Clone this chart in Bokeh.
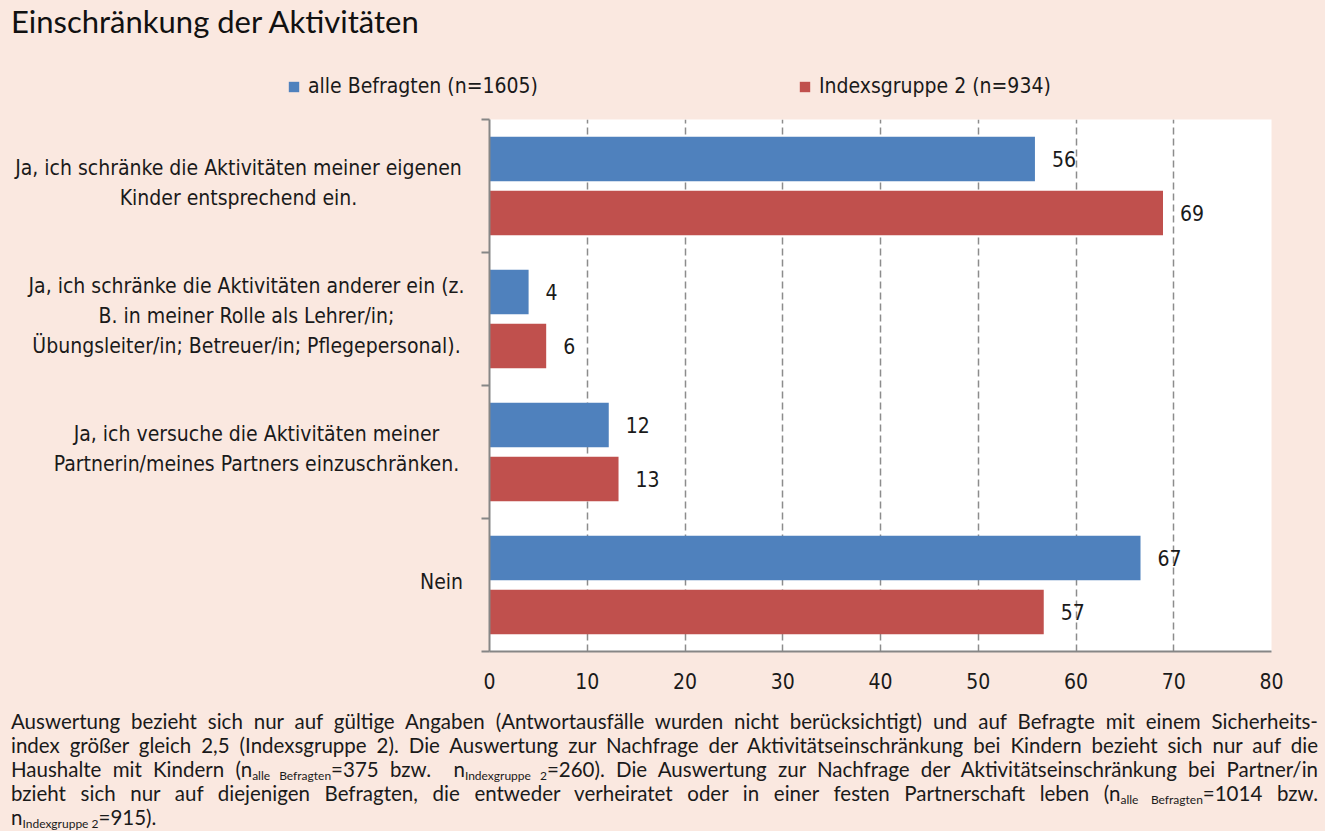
from bokeh.plotting import figure
from bokeh.models import (Range1d, FixedTicker, Legend, LegendItem, Div,
                          ColumnDataSource)
from bokeh.layouts import column, row
from bokeh.core.properties import value
from bokeh.embed import file_html
from bokeh.resources import INLINE

# ---------------- data ----------------
title_text = "Einschränkung der Aktivitäten"
categories = [
    ["Ja, ich schränke die Aktivitäten meiner eigenen", "Kinder entsprechend ein."],
    ["Ja, ich schränke die Aktivitäten anderer ein (z.", "B. in meiner Rolle als Lehrer/in;",
     "Übungsleiter/in; Betreuer/in; Pflegepersonal)."],
    ["Ja, ich versuche die Aktivitäten meiner", "Partnerin/meines Partners einzuschränken."],
    ["Nein"],
]
series_names = ["alle Befragten (n=1605)", "Indexsgruppe 2 (n=934)"]
alle = [55.8, 4.0, 12.2, 66.6]
index2 = [68.9, 5.8, 13.2, 56.7]
x_ticks = [0, 10, 20, 30, 40, 50, 60, 70, 80]

# ---------------- style ----------------
BG = "#FAE8E0"
BLUE = "#4F81BD"
RED = "#C0504D"
GRAY = "#868686"
TXT = "#1a1a1a"
NARROW_S = "DejaVu Sans Condensed"
NARROW = value(NARROW_S)
W = 1325

n = len(categories)
centers = [n - i - 0.5 for i in range(n)]
off = 0.203
src = ColumnDataSource(dict(
    y_a=[c + off for c in centers],
    y_b=[c - off for c in centers],
    alle=alle, index2=index2,
    lab_a=[f"{v:.0f}" for v in alle],
    lab_b=[f"{v:.0f}" for v in index2],
))

ROW_H, TOP, BOT = 587, 4, 51
WL = 469

# ---------- main plot ----------
p = figure(width=W - WL, height=ROW_H, x_range=Range1d(0, 80), y_range=Range1d(0, n),
           output_backend="svg", toolbar_location=None,
           min_border_left=20, min_border_right=54, min_border_top=TOP, min_border_bottom=BOT,
           background_fill_color="white", border_fill_color=BG, outline_line_color=None)

r_a = p.hbar(y="y_a", left=0, right="alle", height=0.335, source=src,
             fill_color=BLUE, line_color=None)
r_b = p.hbar(y="y_b", left=0, right="index2", height=0.335, source=src,
             fill_color=RED, line_color=None)

for ycol, xcol, lcol in (("y_a", "alle", "lab_a"), ("y_b", "index2", "lab_b")):
    p.text(x=xcol, y=ycol, text=lcol, source=src, x_offset=17, text_align="left",
           text_baseline="middle", text_font=NARROW, text_font_size="21px", text_color=TXT)

p.xaxis.ticker = FixedTicker(ticks=x_ticks)
p.xaxis.major_tick_out = 0
p.xaxis.major_tick_in = 0
p.xaxis.minor_tick_line_color = None
p.xaxis.axis_line_color = GRAY
p.xaxis.axis_line_width = 2
p.xaxis.major_label_text_font = NARROW_S
p.xaxis.major_label_text_font_size = "21px"
p.xaxis.major_label_text_color = TXT
p.xaxis.major_label_standoff = 21

p.yaxis.ticker = FixedTicker(ticks=list(range(n + 1)))
p.yaxis.major_tick_out = 8
p.yaxis.major_tick_in = 0
p.yaxis.major_tick_line_color = GRAY
p.yaxis.major_tick_line_width = 2
p.yaxis.minor_tick_line_color = None
p.yaxis.axis_line_color = GRAY
p.yaxis.axis_line_width = 2
p.yaxis.major_label_overrides = {i: "" for i in range(n + 1)}
p.yaxis.major_label_standoff = 0

p.xgrid.ticker = FixedTicker(ticks=x_ticks[1:])
p.xgrid.grid_line_color = "#8c8c8c"
p.xgrid.grid_line_width = 1.5
p.xgrid.grid_line_dash = "7 4"
p.ygrid.visible = False

# ---------- category labels (own panel left of the plot) ----------
lab = figure(width=WL, height=ROW_H, x_range=Range1d(0, WL), y_range=Range1d(0, n),
             output_backend="svg", toolbar_location=None, x_axis_type=None, y_axis_type=None,
             min_border_left=0, min_border_right=0, min_border_top=TOP, min_border_bottom=BOT,
             background_fill_color=BG, border_fill_color=BG, outline_line_color=None)
lab.xgrid.visible = False
lab.ygrid.visible = False
label_centers = [238, 246, 256, 441]   # x of each block centre
line_h = 30 / 133.0
lx, ly, lt = [], [], []
for lines, cy, cx in zip(categories, centers, label_centers):
    k = len(lines)
    for j, t in enumerate(lines):
        lx.append(cx)
        ly.append(cy + ((k - 1) / 2 - j) * line_h)
        lt.append(t)
lab.text(x=lx, y=ly, text=lt, text_align="center", text_baseline="middle", y_offset=-3,
         text_font=NARROW, text_font_size="21px", text_color=TXT)

# ---------- legend strip ----------
LEG_H = 63
leg = figure(width=W, height=LEG_H, x_range=Range1d(0, W), y_range=Range1d(0, LEG_H),
             output_backend="svg", toolbar_location=None, x_axis_type=None, y_axis_type=None,
             min_border=0, background_fill_color=BG, border_fill_color=BG, outline_line_color=None)
leg.xgrid.visible = False
leg.ygrid.visible = False
la = leg.hbar(y=[-100], left=0, right=[1], height=1, fill_color=BLUE, line_color=None)
lb = leg.hbar(y=[-100], left=0, right=[1], height=1, fill_color=RED, line_color=None)
for item_r, name, xloc in ((la, series_names[0], 287), (lb, series_names[1], 798)):
    lg = Legend(items=[LegendItem(label=name, renderers=[item_r])],
                location=(xloc, 17), padding=0, margin=0, label_standoff=8,
                glyph_width=13, glyph_height=13, label_height=24,
                label_text_font=NARROW_S, label_text_font_size="21px",
                label_text_color=TXT, background_fill_alpha=0, border_line_color=None)
    leg.add_layout(lg)

# ---------- title & footnote ----------
title = Div(text=f'<div style="font-family:Lato;font-size:31px;line-height:26px;color:#111;'
                 f'padding:3px 0 0 6px;">{title_text}</div>',
            width=W, height=42, styles={"background-color": BG})

SUB = '<sub style="font-size:12px;vertical-align:-3px;line-height:0">'
foot_lines = [
    "Auswertung bezieht sich nur auf gültige Angaben (Antwortausfälle wurden nicht berücksichtigt) und auf Befragte mit einem Sicherheits-",
    "index größer gleich 2,5 (Indexsgruppe 2). Die Auswertung zur Nachfrage der Aktivitätseinschränkung bei Kindern bezieht sich nur auf die",
    f"Haushalte mit Kindern (n{SUB}alle Befragten</sub>=375 bzw.&nbsp; n{SUB}Indexgruppe 2</sub>=260). Die Auswertung zur Nachfrage der Aktivitätseinschränkung bei Partner/in",
    f"bzieht sich nur auf diejenigen Befragten, die entweder verheiratet oder in einer festen Partnerschaft leben (n{SUB}alle Befragten</sub>=1014 bzw.",
    f"n{SUB}Indexgruppe 2</sub>=915).",
]
html = "".join(
    f'<div style="text-align:justify;text-align-last:{"justify" if i < len(foot_lines) - 1 else "left"};">{t}</div>'
    for i, t in enumerate(foot_lines))
foot = Div(text=f'<div style="font-family:Lato;font-size:20.5px;line-height:24px;color:{TXT};'
                f'padding:2px 0 0 6px;width:1313px;">{html}</div>',
           width=W, height=123, styles={"background-color": BG, "overflow": "hidden"})

layout = column(title, leg, row(lab, p, spacing=0), foot, spacing=0,
                styles={"background-color": BG})
open("out.html", "w").write(file_html(layout, INLINE))
